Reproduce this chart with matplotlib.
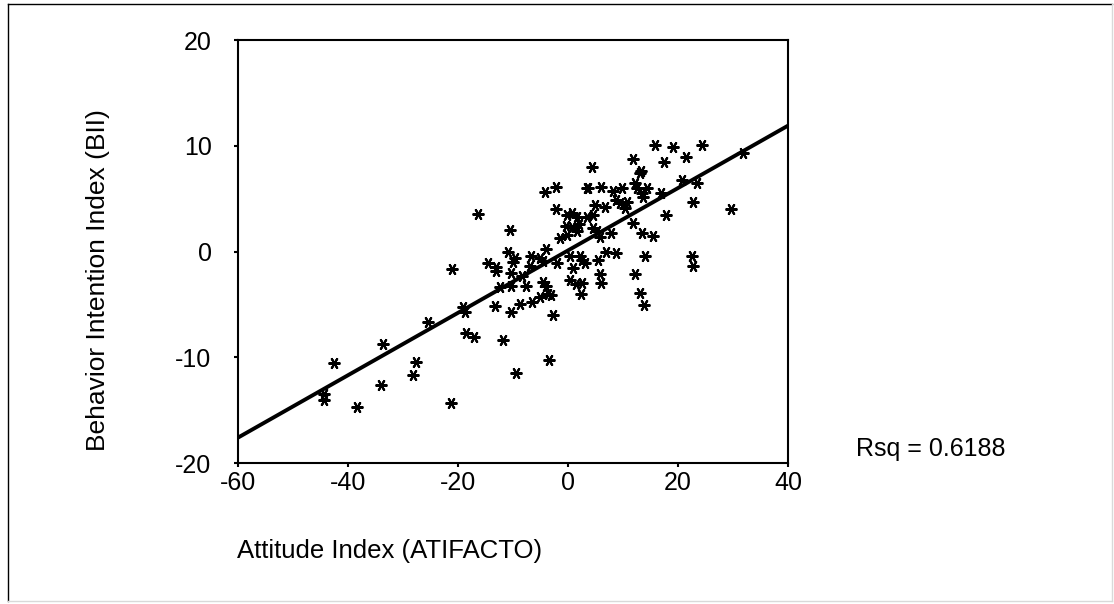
import numpy as np
import matplotlib
matplotlib.use("Agg")
import matplotlib.pyplot as plt
from matplotlib.lines import Line2D

plt.rcParams['font.family'] = ['Liberation Sans', 'DejaVu Sans']
plt.rcParams['axes.unicode_minus'] = False

# Attitude index (x) and behavior intention index (y)
attitude = [
    -44.4, -44.4, -42.5, -38.4, -33.7, -34.0, -25.4, -27.6, -28.1, -21.2,
    -21.1, -19.0, -18.7, -18.45, -17.1, -16.3, -14.5, -13.0, -13.1, -13.2,
    -12.4, -11.8, -10.5, -10.9, -9.6, -9.9, -10.3, -10.3, -10.3, -9.45,
    -8.7, -8.4, -7.6, -6.8, -6.9, -6.6, -5.1, -5.1, -4.5, -4.5,
    -4.2, -3.9, -3.9, -3.6, -3.0, -3.4, -2.7, -2.1, -2.1, -2.05,
    -1.45, -0.25, -0.3, 0.8, 2.0, 1.6, -0.25, 0.65, 1.6, 3.4,
    4.6, 0.36, 2.2, 2.5, 3.1, 5.5, 0.9, 0.4, 1.5, 2.5,
    2.3, 5.8, 6.0, 7.0, 8.7, 7.9, 4.6, 5.2, 5.8, 3.4,
    3.6, 4.3, 6.0, 8.2, 9.75, 4.9, 6.7, 8.8, 9.45, 10.65,
    10.4, 11.9, 13.3, 13.1, 12.2, 12.5, 13.4, 14.3, 13.7, 11.9,
    12.2, 13.4, 15.5, 14.1, 13.1, 13.8, 15.8, 19.1, 24.3, 21.45,
    17.45, 17.0, 17.8, 20.65, 23.4, 22.8, 22.5, 22.65, 29.6, 31.8,
]
intention = [
    -13.5, -14.0, -10.5, -14.7, -8.7, -12.6, -6.7, -10.4, -11.7, -14.3,
    -1.65, -5.2, -5.75, -7.7, -8.1, 3.55, -1.05, -1.5, -1.8, -5.15,
    -3.4, -8.4, 2.0, 0.0, -0.65, -0.96, -2.0, -3.3, -5.75, -11.45,
    -5.0, -2.3, -3.3, -0.4, -1.4, -4.75, -0.65, -4.3, -2.85, -0.87,
    5.6, 0.2, -3.3, -4.0, -4.1, -10.26, -6.0, 6.07, 4.0, -1.1,
    1.25, 1.55, 2.4, 2.3, 2.6, 1.9, 3.45, 3.6, 3.3, 3.3,
    3.45, -0.43, -0.43, -0.8, -1.1, -0.8, -1.6, -2.7, -3.1, -3.0,
    -4.0, -2.15, -3.0, 0.0, -0.15, 1.72, 2.2, 1.9, 1.4, 5.97,
    6.0, 8.0, 6.15, 5.7, 6.0, 4.4, 4.24, 4.87, 4.56, 4.7,
    4.1, 8.75, 7.6, 7.4, 6.45, 5.97, 5.5, 5.97, 5.2, 2.67,
    -2.1, 1.8, 1.47, -0.4, -3.96, -5.06, 10.07, 9.85, 10.07, 8.97,
    8.43, 5.5, 3.5, 6.76, 6.5, 4.7, -0.4, -1.34, 4.0, 9.35,
]

# fitted regression line as drawn
fit_slope = 0.295
fit_intercept = 0.1
rsq_text = "Rsq = 0.6188"

x_ticks = [-60, -40, -20, 0, 20, 40]
y_ticks = [-20, -10, 0, 10, 20]

fig = plt.figure(figsize=(11.14, 6.04), dpi=100)
ax = fig.add_axes([0.2136, 0.2334, 0.4937, 0.7003])

# outer frame
fig.add_artist(Line2D([8/1114, 8/1114], [1 - 601/604, 1 - 4/604], color='black', lw=1))
fig.add_artist(Line2D([8/1114, 1112/1114], [1 - 4/604, 1 - 4/604], color='black', lw=1))
fig.add_artist(Line2D([8/1114, 1112/1114], [1 - 601/604, 1 - 601/604], color='#d9d9d9', lw=1))
fig.add_artist(Line2D([1112/1114, 1112/1114], [1 - 601/604, 1 - 4/604], color='#d9d9d9', lw=1))

xs = np.array([-60, 40])
ax.plot(xs, fit_intercept + fit_slope * xs, color='black', lw=2.8, solid_capstyle='butt')
ax.plot(attitude, intention, linestyle='none', marker=(6, 2, 90), markersize=8.5,
        markeredgewidth=1.5, color='black')

ax.set_xlim(-60, 40)
ax.set_ylim(-20, 20)
ax.set_xticks(x_ticks)
ax.set_yticks(y_ticks)
ax.tick_params(axis='both', labelsize=18, length=3, width=1.5, direction='out')
ax.tick_params(axis='y', pad=16)
ax.tick_params(axis='x', pad=3)
for s in ax.spines.values():
    s.set_linewidth(1.5)

fig.text(237/1114, 1 - 551/604, "Attitude Index (ATIFACTO)", fontsize=18.5,
         ha='left', va='center')
fig.text(98/1114, 1 - 280/604, "Behavior Intention Index (BII)", fontsize=19,
         rotation=90, ha='center', va='center')
fig.text(856/1114, 1 - 449/604, rsq_text, fontsize=18, ha='left', va='center')

plt.savefig("out.png", dpi=100)
